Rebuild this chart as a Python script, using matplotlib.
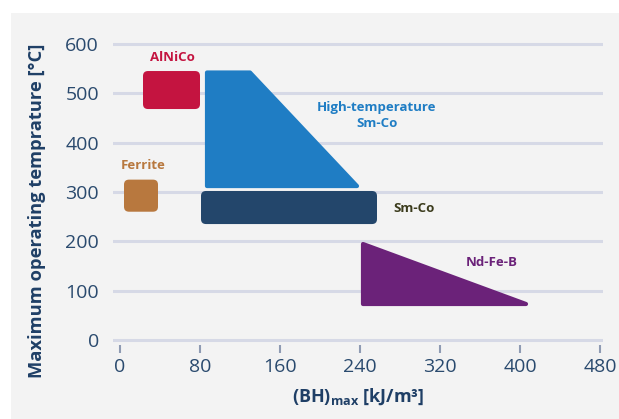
import matplotlib.pyplot as plt
from matplotlib.patches import FancyBboxPatch, Polygon, Rectangle

plt.rcParams['font.family'] = ['Open Sans', 'DejaVu Sans']

# magnet families: (BH)max range [kJ/m3] vs max operating temperature [C]
rect_names = ['AlNiCo', 'Ferrite', 'Sm-Co']
rect_x = [(23, 80), (4, 38), (81, 257)]
rect_y = [(468, 545), (260, 325), (235, 302)]
rect_colors = ['#c41440', '#b8783e', '#23466b']

ht_smco_x = [87, 130, 237, 87]
ht_smco_y = [542, 542, 312, 312]
ndfeb_x = [243, 243, 406]
ndfeb_y = [195, 74, 74]

labels = ['AlNiCo', 'Ferrite', 'High-temperature\nSm-Co', 'Sm-Co', 'Nd-Fe-B']
label_x = [52, 23, 257, 294, 372]
label_y = [573, 353, 454, 266, 158]
label_colors = ['#c41440', '#b8783e', '#1f7dc4', '#3b3b1c', '#6b2279']

xticks = [0, 80, 160, 240, 320, 400, 480]
yticks = [0, 100, 200, 300, 400, 500, 600]

fig = plt.figure(figsize=(6.19, 4.19), dpi=100)
fig.patches.append(Rectangle((11 / 619, 0), 1, 1 - 13 / 419, transform=fig.transFigure,
                             facecolor='#f3f3f3', edgecolor='none', zorder=-10))
ax = fig.add_axes([113 / 619, (419 - 345) / 419, 490 / 619, (345 - 34) / 419])
ax.set_facecolor('none')
ax.set_xlim(-7, 483)
ax.set_ylim(-10, 620)

for y in yticks:
    ax.axhline(y, color='#d6d9e6', lw=2.2, zorder=0)

for (x0, x1), (y0, y1), c in zip(rect_x, rect_y, rect_colors):
    ax.add_patch(FancyBboxPatch((x0, y0), x1 - x0, y1 - y0,
                                boxstyle='round,pad=0,rounding_size=5',
                                mutation_aspect=2, facecolor=c, edgecolor='none', zorder=2))

ax.add_patch(Polygon(list(zip(ht_smco_x, ht_smco_y)), closed=True, facecolor='#1f7dc4',
                     edgecolor='#1f7dc4', lw=3, joinstyle='round', zorder=1))
ax.add_patch(Polygon(list(zip(ndfeb_x, ndfeb_y)), closed=True, facecolor='#6b2279',
                     edgecolor='#6b2279', lw=3, joinstyle='round', zorder=2))

for t, x, y, c in zip(labels, label_x, label_y, label_colors):
    ax.text(x, y, t, color=c, fontsize=9.5, fontweight='bold', ha='center', va='center',
            linespacing=1.3)

for s in ax.spines.values():
    s.set_visible(False)
ax.set_xticks(xticks)
ax.set_yticks(yticks)
ax.tick_params(axis='x', length=6, width=1.5, color='#8f9bb3', labelsize=14,
               labelcolor='#2a4a6e', pad=3)
ax.tick_params(axis='y', length=0, labelsize=14, labelcolor='#2a4a6e', pad=10)

ax.set_xlabel('(BH)$_{\\mathregular{max}}$ [kJ/m³]', fontsize=13, fontweight='bold',
              color='#1f3f66', labelpad=8)
ax.set_ylabel('Maximum operating temprature [°C]', fontsize=13.2, fontweight='bold',
              color='#1f3f66', va='center')
ax.yaxis.set_label_coords(-0.155, 0.43)

fig.savefig('out.png', dpi=100)
